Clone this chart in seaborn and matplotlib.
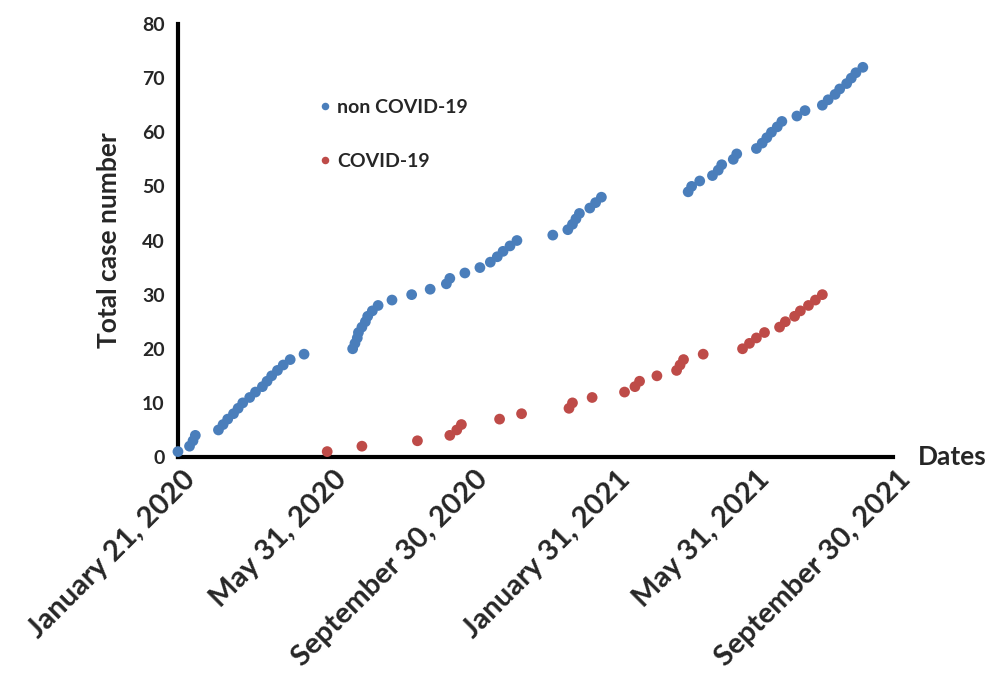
import pandas as pd
import matplotlib.pyplot as plt
import matplotlib.transforms as mtransforms
import seaborn as sns

# dates of each case and running total
non_covid_dates = [
    "2020-01-21", "2020-01-31", "2020-02-03", "2020-02-05", "2020-02-25",
    "2020-02-29", "2020-03-04", "2020-03-09", "2020-03-13", "2020-03-17",
    "2020-03-23", "2020-03-28", "2020-04-03", "2020-04-07", "2020-04-11",
    "2020-04-16", "2020-04-21", "2020-04-27", "2020-05-09", "2020-06-20",
    "2020-06-22", "2020-06-24", "2020-06-25", "2020-06-28", "2020-07-01",
    "2020-07-03", "2020-07-07", "2020-07-12", "2020-07-24", "2020-08-10",
    "2020-08-26", "2020-09-09", "2020-09-12", "2020-09-25", "2020-10-08",
    "2020-10-17", "2020-10-23", "2020-10-28", "2020-11-03", "2020-11-09",
    "2020-12-10", "2020-12-23", "2020-12-27", "2020-12-30", "2021-01-02",
    "2021-01-11", "2021-01-16", "2021-01-21", "2021-04-06", "2021-04-09",
    "2021-04-16", "2021-04-27", "2021-05-02", "2021-05-05", "2021-05-15",
    "2021-05-18", "2021-06-04", "2021-06-09", "2021-06-13", "2021-06-17",
    "2021-06-22", "2021-06-26", "2021-07-09", "2021-07-16", "2021-07-31",
    "2021-08-05", "2021-08-11", "2021-08-15", "2021-08-21", "2021-08-25",
    "2021-08-29", "2021-09-04",
]
non_covid_totals = [
    1, 2, 3, 4, 5, 6, 7, 8, 9, 10, 11, 12, 13, 14, 15, 16, 17, 18, 19, 20,
    21, 22, 23, 24, 25, 26, 27, 28, 29, 30, 31, 32, 33, 34, 35, 36, 37, 38,
    39, 40, 41, 42, 43, 44, 45, 46, 47, 48, 49, 50, 51, 52, 53, 54, 55, 56,
    57, 58, 59, 60, 61, 62, 63, 64, 65, 66, 67, 68, 69, 70, 71, 72,
]

covid_dates = [
    "2020-05-29", "2020-06-28", "2020-08-15", "2020-09-12", "2020-09-18",
    "2020-09-22", "2020-10-25", "2020-11-13", "2020-12-24", "2020-12-27",
    "2021-01-13", "2021-02-10", "2021-02-19", "2021-02-23", "2021-03-10",
    "2021-03-27", "2021-03-30", "2021-04-02", "2021-04-19", "2021-05-23",
    "2021-05-29", "2021-06-04", "2021-06-11", "2021-06-24", "2021-06-29",
    "2021-07-07", "2021-07-12", "2021-07-19", "2021-07-25", "2021-07-31",
]
covid_totals = [
    1, 2, 3, 4, 5, 6, 7, 8, 9, 10, 11, 12, 13, 14, 15, 16, 17, 18, 19, 20,
    21, 22, 23, 24, 25, 26, 27, 28, 29, 30,
]

tick_dates = ["2020-01-21", "2020-05-31", "2020-09-30",
              "2021-01-31", "2021-05-31", "2021-09-30"]
tick_labels = ["January 21, 2020", "May 31, 2020", "September 30, 2020",
               "January 31, 2021", "May 31, 2021", "September 30, 2021"]

df_non = pd.DataFrame({"Date": pd.to_datetime(non_covid_dates),
                       "Total": non_covid_totals, "Group": "non COVID-19"})
df_cov = pd.DataFrame({"Date": pd.to_datetime(covid_dates),
                       "Total": covid_totals, "Group": "COVID-19"})
df = pd.concat([df_non, df_cov], ignore_index=True)

sns.set_style("white")
plt.rcParams['font.family'] = ['Lato', 'DejaVu Sans']

fig = plt.figure(figsize=(10.06, 6.86), dpi=100)
ax = fig.add_axes([0.1769, 0.3338, 0.7107, 0.6312])

sns.scatterplot(data=df, x="Date", y="Total", hue="Group",
                palette={"non COVID-19": "#4A7EBB", "COVID-19": "#BE4B48"},
                s=60, linewidth=0, clip_on=False, zorder=3, ax=ax)

ax.set_xlim(pd.Timestamp("2020-01-21"), pd.Timestamp("2021-09-30"))
ax.set_ylim(0, 80)
ax.set_yticks(range(0, 81, 10))

# axis lines like the excel chart
for side in ["top", "right"]:
    ax.spines[side].set_visible(False)
for side in ["left", "bottom"]:
    ax.spines[side].set_linewidth(3)
    ax.spines[side].set_color("black")

ax.tick_params(axis="both", direction="inout", length=13, width=2.5,
               color="black")
ax.tick_params(axis="y", labelsize=14, pad=3)
for lab in ax.get_yticklabels():
    lab.set_fontweight("bold")

ax.set_xticks(pd.to_datetime(tick_dates))
ax.set_xticklabels(tick_labels, rotation=45, ha="right",
                   rotation_mode="anchor", fontsize=21, fontweight="bold")
ax.tick_params(axis="x", pad=0)
shift = mtransforms.ScaledTranslation(0.04, 0.0, fig.dpi_scale_trans)
for lab in ax.get_xticklabels():
    lab.set_transform(lab.get_transform() + shift)

ax.set_xlabel("")
ax.set_ylabel("Total case number", fontsize=19, fontweight="bold")
ax.yaxis.set_label_coords(-0.08, 0.5)
ax.text(1.035, 0, "Dates", transform=ax.transAxes, fontsize=19,
        fontweight="bold", va="center", ha="left")

handles, labels = ax.get_legend_handles_labels()
ax.legend(handles, labels, frameon=False, loc="center left",
          bbox_to_anchor=(0.304, 0.804), bbox_transform=fig.transFigure,
          prop={"size": 14, "weight": "bold"}, labelspacing=1.9,
          handlelength=1, handletextpad=0.1, borderpad=0, markerscale=0.7)

fig.savefig("out.png", dpi=100)
